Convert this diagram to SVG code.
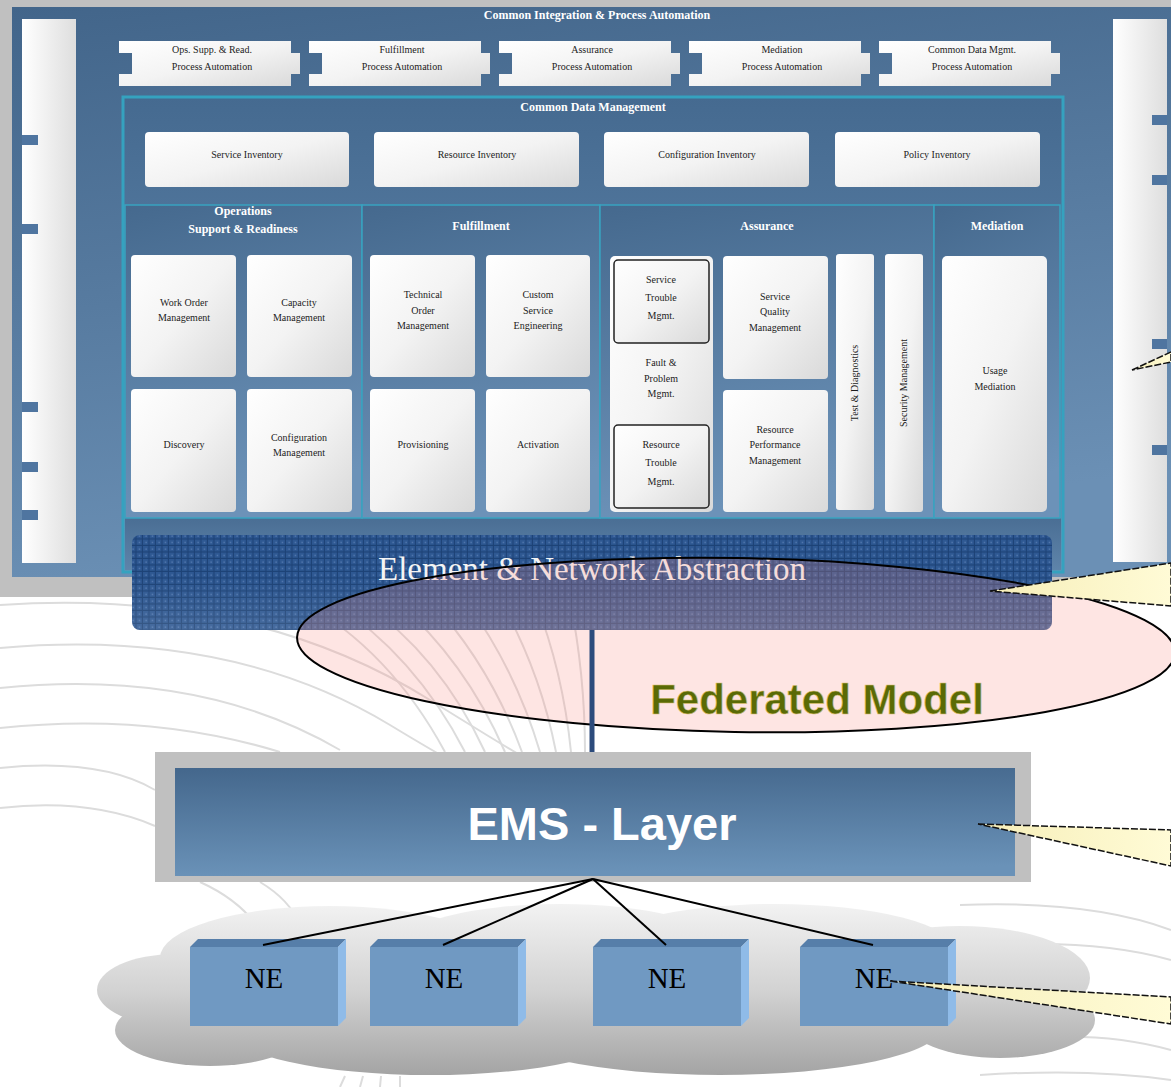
<svg xmlns="http://www.w3.org/2000/svg" width="1171" height="1087" viewBox="0 0 1171 1087">
<style>
.t{font-family:"Liberation Serif",serif;fill:#1c1c1c;font-size:10px;text-anchor:middle}
.h{font-family:"Liberation Serif",serif;fill:#fff;font-size:12px;font-weight:bold;text-anchor:middle}
.box{fill:url(#boxG)}
.bar{fill:url(#barG)}
.sub{fill:url(#subG);stroke:#39a3c0;stroke-width:1.5}
.tab{fill:#4f75a0}
.ne-front{fill:#7099c2}
.ne-top{fill:#567ea9}
.ne-side{fill:#8fbbe8}
.ne-text{font-family:"Liberation Serif",serif;font-size:29px;fill:#000;text-anchor:middle}
.conn{stroke:#000;stroke-width:2;fill:none}
.arc{fill:none;stroke:#dcdcdc;stroke-width:2}
.callout{fill:url(#callG);stroke:#111;stroke-width:1.5;stroke-dasharray:7 2}
</style>
<defs>
<linearGradient id="panelG" x1="0" y1="0" x2="0.25" y2="1"><stop offset="0" stop-color="#42658a"/><stop offset="1" stop-color="#6b90b5"/></linearGradient>
<linearGradient id="cdmG" x1="0" y1="0" x2="0" y2="1"><stop offset="0" stop-color="#456a90"/><stop offset="1" stop-color="#6b91b7"/></linearGradient>
<linearGradient id="subG" x1="0" y1="0" x2="0.2" y2="1"><stop offset="0" stop-color="#45698e"/><stop offset="1" stop-color="#6c92b8"/></linearGradient>
<linearGradient id="bandG" x1="0" y1="0" x2="0" y2="1"><stop offset="0" stop-color="#4a6e94"/><stop offset="1" stop-color="#5e84aa"/></linearGradient>
<linearGradient id="boxG" x1="0" y1="0" x2="1" y2="1"><stop offset="0" stop-color="#ffffff"/><stop offset="0.5" stop-color="#f3f3f3"/><stop offset="1" stop-color="#d9d9d9"/></linearGradient>
<linearGradient id="barG" x1="0" y1="0" x2="1" y2="0"><stop offset="0" stop-color="#ffffff"/><stop offset="1" stop-color="#dedede"/></linearGradient>
<linearGradient id="emsG" x1="0" y1="0" x2="0.1" y2="1"><stop offset="0" stop-color="#44678c"/><stop offset="1" stop-color="#6a92b8"/></linearGradient>
<linearGradient id="cloudG" gradientUnits="userSpaceOnUse" x1="0" y1="905" x2="0" y2="1078"><stop offset="0" stop-color="#f2f2f2"/><stop offset="0.5" stop-color="#d2d2d2"/><stop offset="1" stop-color="#a2a2a2"/></linearGradient>
<linearGradient id="callG" x1="0" y1="0" x2="1" y2="0"><stop offset="0" stop-color="#f6eeb8"/><stop offset="1" stop-color="#fffbd6"/></linearGradient>
<linearGradient id="shineG" x1="0" y1="0" x2="0" y2="1"><stop offset="0" stop-color="#ffffff" stop-opacity="0"/><stop offset="0.45" stop-color="#ffffff" stop-opacity="0"/><stop offset="1" stop-color="#ffffff" stop-opacity="0.12"/></linearGradient>
<pattern id="gridP" width="6.5" height="6.5" patternUnits="userSpaceOnUse">
<rect width="6.5" height="6.5" fill="#2e5892"/>
<path d="M6,0V6.5M0,6H6.5" stroke="#1d4276" stroke-width="1.2"/>
<rect x="2.5" y="2.5" width="1" height="1" fill="#7c9ccc"/>
</pattern>
<path id="piece" d="M0,0H172V12H181V33H172V45H0V33H13V12H0Z"/>
</defs>

<!-- background -->
<rect width="1171" height="1087" fill="#ffffff"/>
<rect x="0" y="0" width="1171" height="597" fill="#c0c0c0"/>

<!-- decorative background arcs -->
<g id="background-arcs">
<path class="arc" d="M0,605 Q250,588 430,700 T540,760"/>
<path class="arc" d="M0,648 Q230,628 390,725 T500,770"/>
<path class="arc" d="M0,688 Q200,668 340,750"/>
<path class="arc" d="M0,728 Q150,712 280,752"/>
<path class="arc" d="M0,768 Q100,758 155,790"/>
<path class="arc" d="M0,808 Q90,798 155,826"/>
<path class="arc" d="M300,600 Q390,650 445,752"/>
<path class="arc" d="M330,600 Q415,655 465,752"/>
<path class="arc" d="M360,600 Q440,655 485,752"/>
<path class="arc" d="M395,600 Q465,660 505,752"/>
<path class="arc" d="M430,600 Q490,665 522,752"/>
<path class="arc" d="M465,600 Q515,668 540,752"/>
<path class="arc" d="M500,600 Q540,670 556,752"/>
<path class="arc" d="M535,600 Q563,672 571,752"/>
<path class="arc" d="M570,600 Q585,675 585,752"/>
<path class="arc" d="M200,882 Q240,900 260,930"/>
<path class="arc" d="M260,882 Q290,900 300,925"/>
<path class="arc" d="M960,905 Q1090,900 1171,930"/>
<path class="arc" d="M1000,945 Q1100,940 1171,960"/>
<path class="arc" d="M1010,1040 Q1100,1030 1171,1050"/>
<path class="arc" d="M980,1075 Q1090,1068 1171,1080"/>
<path class="arc" d="M340,1087 L345,1076 M360,1087 L363,1076 M380,1087 L381,1076 M400,1087 L400,1076"/>
</g>

<!-- main blue panel -->
<g id="main-panel">
<rect x="12" y="7" width="1170" height="570" fill="url(#panelG)"/>
<text class="h" x="597" y="19">Common Integration &amp; Process Automation</text>
</g>

<g id="left-bar">
<rect class="bar" x="22" y="19" width="54" height="544"/>
<rect class="tab" x="22" y="135" width="16" height="10"/>
<rect class="tab" x="22" y="224" width="16" height="10"/>
<rect class="tab" x="22" y="402" width="16" height="10"/>
<rect class="tab" x="22" y="462" width="16" height="10"/>
<rect class="tab" x="22" y="510" width="16" height="10"/>
</g>
<g id="right-bar">
<rect class="bar" x="1113" y="19" width="54" height="543"/>
<rect class="tab" x="1152" y="115" width="15" height="10"/>
<rect class="tab" x="1152" y="175" width="15" height="10"/>
<rect class="tab" x="1152" y="339" width="15" height="10"/>
<rect class="tab" x="1152" y="445" width="15" height="10"/>
</g>

<!-- process automation pieces -->
<g id="pa-ops">
<use href="#piece" x="119" y="41" class="box"/>
<text class="t" x="212" y="53">Ops. Supp. &amp; Read.</text>
<text class="t" x="212" y="70">Process Automation</text>
</g>
<g id="pa-fulfillment">
<use href="#piece" x="309" y="41" class="box"/>
<text class="t" x="402" y="53">Fulfillment</text>
<text class="t" x="402" y="70">Process Automation</text>
</g>
<g id="pa-assurance">
<use href="#piece" x="499" y="41" class="box"/>
<text class="t" x="592" y="53">Assurance</text>
<text class="t" x="592" y="70">Process Automation</text>
</g>
<g id="pa-mediation">
<use href="#piece" x="689" y="41" class="box"/>
<text class="t" x="782" y="53">Mediation</text>
<text class="t" x="782" y="70">Process Automation</text>
</g>
<g id="pa-cdm">
<use href="#piece" x="879" y="41" class="box"/>
<text class="t" x="972" y="53">Common Data Mgmt.</text>
<text class="t" x="972" y="70">Process Automation</text>
</g>

<!-- common data management -->
<g id="cdm">
<rect x="123" y="97" width="940" height="475" fill="url(#cdmG)" stroke="#35a2bf" stroke-width="3"/>
<rect x="125" y="518" width="936" height="52" fill="url(#bandG)"/>
<text class="h" x="593" y="111">Common Data Management</text>
</g>
<g id="service-inventory"><rect class="box" x="145" y="132" width="204" height="55" rx="4"/><text class="t" x="247" y="158">Service Inventory</text></g>
<g id="resource-inventory"><rect class="box" x="374" y="132" width="205" height="55" rx="4"/><text class="t" x="477" y="158">Resource Inventory</text></g>
<g id="configuration-inventory"><rect class="box" x="604" y="132" width="205" height="55" rx="4"/><text class="t" x="707" y="158">Configuration Inventory</text></g>
<g id="policy-inventory"><rect class="box" x="835" y="132" width="205" height="55" rx="4"/><text class="t" x="937" y="158">Policy Inventory</text></g>

<!-- sub panels -->
<g id="panel-osr">
<rect class="sub" x="125" y="205" width="237" height="313"/>
<text class="h" x="243" y="215">Operations</text>
<text class="h" x="243" y="233">Support &amp; Readiness</text>
</g>
<g id="panel-fulfillment">
<rect class="sub" x="362" y="205" width="238" height="313"/>
<text class="h" x="481" y="230">Fulfillment</text>
</g>
<g id="panel-assurance">
<rect class="sub" x="600" y="205" width="334" height="313"/>
<text class="h" x="767" y="230">Assurance</text>
</g>
<g id="panel-mediation">
<rect class="sub" x="934" y="205" width="126" height="313"/>
<text class="h" x="997" y="230">Mediation</text>
</g>

<g id="work-order-management"><rect class="box" x="131" y="255" width="105" height="122" rx="4"/><text class="t" x="184" y="306">Work Order</text><text class="t" x="184" y="321">Management</text></g>
<g id="capacity-management"><rect class="box" x="247" y="255" width="105" height="122" rx="4"/><text class="t" x="299" y="306">Capacity</text><text class="t" x="299" y="321">Management</text></g>
<g id="discovery"><rect class="box" x="131" y="389" width="105" height="123" rx="4"/><text class="t" x="184" y="448">Discovery</text></g>
<g id="configuration-management"><rect class="box" x="247" y="389" width="105" height="123" rx="4"/><text class="t" x="299" y="441">Configuration</text><text class="t" x="299" y="456">Management</text></g>

<g id="technical-order-management"><rect class="box" x="370" y="255" width="105" height="122" rx="4"/><text class="t" x="423" y="298">Technical</text><text class="t" x="423" y="314">Order</text><text class="t" x="423" y="329">Management</text></g>
<g id="custom-service-engineering"><rect class="box" x="486" y="255" width="104" height="122" rx="4"/><text class="t" x="538" y="298">Custom</text><text class="t" x="538" y="314">Service</text><text class="t" x="538" y="329">Engineering</text></g>
<g id="provisioning"><rect class="box" x="370" y="389" width="105" height="123" rx="4"/><text class="t" x="423" y="448">Provisioning</text></g>
<g id="activation"><rect class="box" x="486" y="389" width="104" height="123" rx="4"/><text class="t" x="538" y="448">Activation</text></g>

<g id="fault-problem-mgmt">
<rect class="box" x="610" y="256" width="103" height="256" rx="5"/>
<text class="t" x="661" y="366">Fault &amp;</text><text class="t" x="661" y="382">Problem</text><text class="t" x="661" y="397">Mgmt.</text>
</g>
<g id="service-trouble-mgmt"><rect class="box" x="614" y="260" width="95" height="83" rx="4" stroke="#222" stroke-width="1.5"/><text class="t" x="661" y="283">Service</text><text class="t" x="661" y="301">Trouble</text><text class="t" x="661" y="319">Mgmt.</text></g>
<g id="resource-trouble-mgmt"><rect class="box" x="614" y="425" width="95" height="83" rx="4" stroke="#222" stroke-width="1.5"/><text class="t" x="661" y="448">Resource</text><text class="t" x="661" y="466">Trouble</text><text class="t" x="661" y="485">Mgmt.</text></g>
<g id="service-quality-management"><rect class="box" x="723" y="256" width="105" height="123" rx="4"/><text class="t" x="775" y="300">Service</text><text class="t" x="775" y="315">Quality</text><text class="t" x="775" y="331">Management</text></g>
<g id="resource-performance-management"><rect class="box" x="723" y="390" width="105" height="122" rx="4"/><text class="t" x="775" y="433">Resource</text><text class="t" x="775" y="448">Performance</text><text class="t" x="775" y="464">Management</text></g>
<g id="test-diagnostics"><rect class="box" x="836" y="254" width="38" height="256" rx="3"/><text class="t" transform="translate(858,383) rotate(-90)">Test &amp; Diagnostics</text></g>
<g id="security-management"><rect class="box" x="885" y="254" width="38" height="258" rx="3"/><text class="t" transform="translate(907,383) rotate(-90)">Security Management</text></g>
<g id="usage-mediation"><rect class="box" x="942" y="256" width="105" height="256" rx="5"/><text class="t" x="995" y="374">Usage</text><text class="t" x="995" y="390">Mediation</text></g>

<!-- element & network abstraction with federated model ellipse -->
<g id="element-network-abstraction">
<rect x="132" y="535" width="920" height="95" rx="8" fill="url(#gridP)"/>
<rect x="132" y="535" width="920" height="95" rx="8" fill="url(#shineG)"/>
<text x="592" y="580" font-family="'Liberation Serif',serif" font-size="33" fill="#f4f4f4" text-anchor="middle">Element &amp; Network Abstraction</text>
</g>
<g id="federated-model">
<ellipse cx="736" cy="645" rx="439" ry="87" transform="rotate(1 736 645)" fill="rgb(250,139,130)" fill-opacity="0.224"/>
<ellipse cx="736" cy="645" rx="439" ry="87" transform="rotate(1 736 645)" fill="none" stroke="#000" stroke-width="2"/>
<text x="817" y="714" font-family="'Liberation Sans',sans-serif" font-size="42" font-weight="bold" fill="#5a6a06" stroke="#d8c070" stroke-width="0.6" text-anchor="middle">Federated Model</text>
</g>

<!-- EMS layer -->
<g id="ems-layer">
<rect x="155" y="752" width="876" height="130" fill="#c0c0c0"/>
<rect x="175" y="768" width="840" height="108" fill="url(#emsG)"/>
<text x="602" y="840" font-family="'Liberation Sans',sans-serif" font-size="47" font-weight="bold" fill="#ffffff" text-anchor="middle">EMS - Layer</text>
</g>

<!-- network cloud -->
<g id="network-cloud" fill="url(#cloudG)">
<ellipse cx="330" cy="958" rx="170" ry="52"/>
<ellipse cx="560" cy="946" rx="160" ry="42"/>
<ellipse cx="775" cy="950" rx="180" ry="46"/>
<ellipse cx="960" cy="978" rx="130" ry="52"/>
<ellipse cx="175" cy="990" rx="78" ry="36"/>
<ellipse cx="210" cy="1030" rx="95" ry="36"/>
<ellipse cx="430" cy="1030" rx="200" ry="45"/>
<ellipse cx="720" cy="1028" rx="220" ry="47"/>
<ellipse cx="1000" cy="1020" rx="95" ry="38"/>
<rect x="180" y="950" width="860" height="80"/>
</g>

<!-- NE nodes -->
<g id="ne-1"><rect class="ne-front" x="190" y="947" width="148" height="79"/><polygon class="ne-top" points="190,947 198,939 346,939 338,947"/><polygon class="ne-side" points="338,947 346,939 346,1018 338,1026"/><text class="ne-text" x="264" y="988">NE</text></g>
<g id="ne-2"><rect class="ne-front" x="370" y="947" width="148" height="79"/><polygon class="ne-top" points="370,947 378,939 526,939 518,947"/><polygon class="ne-side" points="518,947 526,939 526,1018 518,1026"/><text class="ne-text" x="444" y="988">NE</text></g>
<g id="ne-3"><rect class="ne-front" x="593" y="947" width="148" height="79"/><polygon class="ne-top" points="593,947 601,939 749,939 741,947"/><polygon class="ne-side" points="741,947 749,939 749,1018 741,1026"/><text class="ne-text" x="667" y="988">NE</text></g>
<g id="ne-4"><rect class="ne-front" x="800" y="947" width="148" height="79"/><polygon class="ne-top" points="800,947 808,939 956,939 948,947"/><polygon class="ne-side" points="948,947 956,939 956,1018 948,1026"/><text class="ne-text" x="874" y="988">NE</text></g>

<!-- connectors -->
<g id="connectors">
<line x1="592" y1="630" x2="592" y2="752" stroke="#2c4b7c" stroke-width="5"/>
<line class="conn" x1="593" y1="879" x2="263" y2="945"/>
<line class="conn" x1="593" y1="879" x2="443" y2="945"/>
<line class="conn" x1="593" y1="879" x2="666" y2="945"/>
<line class="conn" x1="593" y1="879" x2="873" y2="945"/>
</g>

<!-- callouts -->
<g id="callouts">
<polygon class="callout" points="1132,370 1171,352 1171,362"/>
<polygon class="callout" points="990,591 1171,563 1171,606"/>
<polygon class="callout" points="978,824 1171,830 1171,866"/>
<polygon class="callout" points="890,981 1171,997 1171,1024"/>
</g>
</svg>
